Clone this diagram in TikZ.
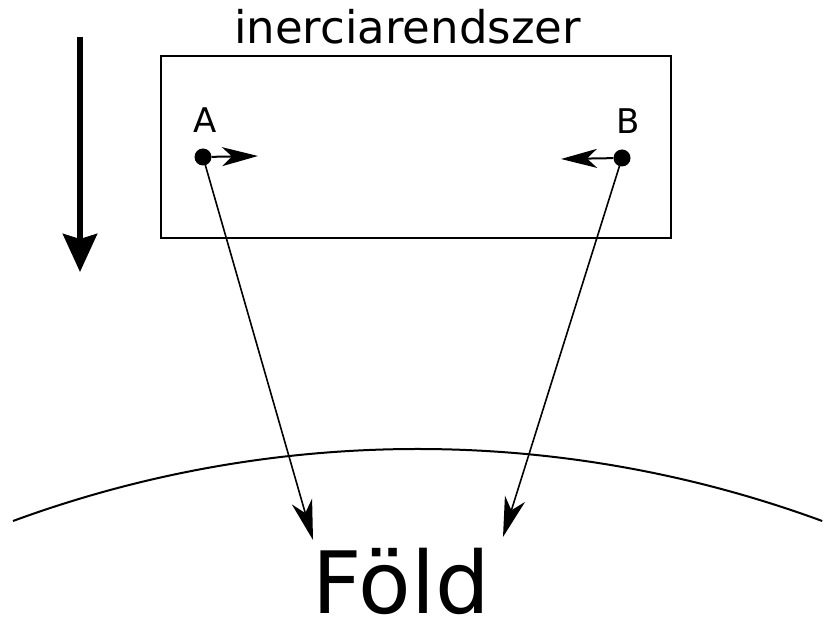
\documentclass[tikz,border=0pt]{standalone}
\usepackage{fontspec}
\setmainfont{DejaVu Sans}
\usepackage{tikz}
\usetikzlibrary{arrows.meta, positioning}

\tikzset{
  pont/.style={circle, fill=black, inner sep=0pt, minimum size=17pt},
  keret/.style={draw, line width=2pt, minimum width=510pt, minimum height=182pt, inner sep=0pt},
  kis/.style={line width=2pt, -{Stealth[length=36pt, width=19pt, inset=10pt]}},
  hosszu/.style={line width=1.6pt, -{Stealth[length=40pt, width=21pt, inset=12pt]}},
  nagy/.style={line width=6pt, -{Stealth[length=38pt, width=34pt, inset=5pt]}}
}

\begin{document}
\begin{tikzpicture}[x=1pt, y=1pt]
  \useasboundingbox (0,0) rectangle (825,619);
  % Define nodes
  \node[keret] (rendszer) at (416,472) {};
  \node[anchor=base, font=\fontsize{45}{54}\selectfont] (cim) at (407.5,575) {inerciarendszer};
  \node[pont] (A) at (203,462) {};
  \node[pont] (B) at (622,461) {};
  \node[font=\fontsize{34}{40}\selectfont] (Acimke) at (205,499) {A};
  \node[font=\fontsize{34}{40}\selectfont] (Bcimke) at (628,498) {B};
  \node[anchor=base, inner sep=0pt, text depth=0pt, font=\fontsize{86}{100}\selectfont] (fold) at (401,6) {Föld};
  %--
  \coordinate (Ae) at (258,463);
  \coordinate (Be) at (561,460);
  \coordinate (Af) at (313,79);
  \coordinate (Bf) at (503,82);
  \coordinate (g1) at (80,582);
  \coordinate (g2) at (80,347);

  % Earth surface
  \draw[line width=2pt] (13,98) arc[start angle=110.19, end angle=69.81, radius=1172.3];

  % Connect the nodes
  \draw[kis] (A) -- (Ae);
  \draw[kis] (B) -- (Be);
  \draw[hosszu] (A.center) -- (Af);
  \draw[hosszu] (B.center) -- (Bf);
  \draw[nagy] (g1) -- (g2);
\end{tikzpicture}
\end{document}
